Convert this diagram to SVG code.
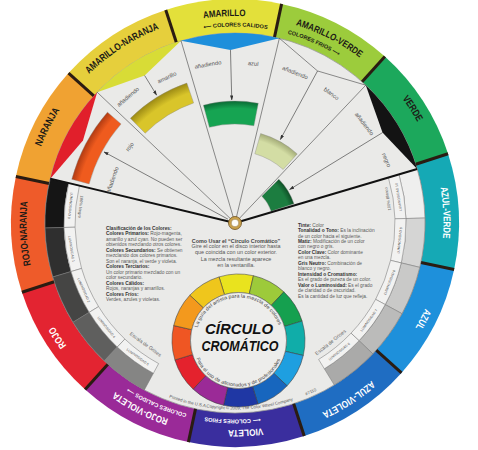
<svg xmlns="http://www.w3.org/2000/svg" width="478" height="450" viewBox="0 0 478 450">
<style>
text{font-family:"Liberation Sans",Arial,"DejaVu Sans",sans-serif}
.rl{font-weight:bold;font-size:10px}
.rl2{font-weight:bold;font-size:9.5px}
.sub{font-weight:bold;font-size:5.6px}
.dk{fill:#1c1a16}
.wt{fill:#fff}
.sm{font-size:5.8px;fill:#555}
.tb{font-size:4.8px;fill:#5a5a5a}
.b{font-weight:bold;fill:#333}
.lum{font-size:3.4px;fill:#555}
.thin{stroke:#444;stroke-width:0.6;fill:none}
.thick{stroke:#111;stroke-width:2;fill:none}
.arr{stroke:#333;stroke-width:0.6;fill:none;marker-end:url(#ah)}
.bd{stroke:#2a1c12;stroke-width:3}
.box{stroke:#7a7a7a;stroke-width:0.5}
.sws{stroke:#3a3a3a;stroke-width:0.5}
</style>
<defs>
<marker id="ah" viewBox="0 0 6 4" refX="5.5" refY="2" markerWidth="5" markerHeight="3.4" markerUnits="userSpaceOnUse" orient="auto"><path d="M0,0 L6,2 L0,4 Z" fill="#333"/></marker>
<path id="seg" d="M235,223 L177.02,6.63 A224,224 0 0 1 292.98,6.63 Z"/>
<path id="tab" d="M185.83,39.47 A190,190 0 0 1 284.17,39.47 L235,50 Z"/>
<path id="gb" d="M210.20,34.63 A190,190 0 0 1 259.80,34.63 L257.32,53.46 A171,171 0 0 0 212.68,53.46 Z"/>
<path id="lb" d="M212.68,53.46 A171,171 0 0 1 257.32,53.46 L255.88,64.37 A160,160 0 0 0 214.12,64.37 Z"/>
<path id="sw" d="M221.29,276.27 A66.5,66.5 0 0 1 255.71,276.27 L250.92,294.14 A48,48 0 0 0 226.08,294.14 Z"/>
<path id="c1" d="M235,14.5 A208.5,208.5 0 1 1 235,431.5 A208.5,208.5 0 1 1 235,14.5 A208.5,208.5 0 1 1 235,431.5 A208.5,208.5 0 1 1 235,14.5"/>
<path id="c2" d="M235,16 A207,207 0 1 1 235,430 A207,207 0 1 1 235,16 A207,207 0 1 1 235,430 A207,207 0 1 1 235,16"/>
<path id="c3" d="M235,26.5 A196.5,196.5 0 1 1 235,419.5 A196.5,196.5 0 1 1 235,26.5 A196.5,196.5 0 1 1 235,419.5 A196.5,196.5 0 1 1 235,26.5"/>
<path id="cw1" d="M196.15,347.97 A43,43 0 1 1 280.85,347.97"/>
<path id="cw2" d="M193.20,348.49 A46,46 0 0 0 283.80,348.49"/>
<path id="cp" d="M128.03,375.77 A186.5,186.5 0 0 0 354.88,365.87"/>
<radialGradient id="gO" gradientUnits="userSpaceOnUse" cx="235" cy="223" r="169"><stop offset="0.95" stop-color="#ef5b1e"/><stop offset="1" stop-color="#b03a12"/></radialGradient>
<radialGradient id="gY" gradientUnits="userSpaceOnUse" cx="235" cy="223" r="148"><stop offset="0.93" stop-color="#d9c52a"/><stop offset="1" stop-color="#9c8a14"/></radialGradient>
<radialGradient id="gG" gradientUnits="userSpaceOnUse" cx="235" cy="223" r="122"><stop offset="0.94" stop-color="#16a452"/><stop offset="1" stop-color="#0a6a34"/></radialGradient>
<radialGradient id="gL" gradientUnits="userSpaceOnUse" cx="235" cy="223" r="93"><stop offset="0.92" stop-color="#d3dda4"/><stop offset="1" stop-color="#a4ac78"/></radialGradient>
<radialGradient id="gD" gradientUnits="userSpaceOnUse" cx="235" cy="223" r="62"><stop offset="0.9" stop-color="#1c7d40"/><stop offset="1" stop-color="#0e4f26"/></radialGradient>
</defs>
<rect width="478" height="450" fill="#fff"/>

<g id="outer-ring">
<g id="seg-amarillo"><use href="#seg" transform="rotate(-3 235 223)" fill="#e3e03a"/></g>
<g id="seg-amarillo-verde"><use href="#seg" transform="rotate(27 235 223)" fill="#9ccc3c"/></g>
<g id="seg-verde"><use href="#seg" transform="rotate(57 235 223)" fill="#1ca85c"/></g>
<g id="seg-azul-verde"><use href="#seg" transform="rotate(87 235 223)" fill="#15a9b5"/></g>
<g id="seg-azul"><use href="#seg" transform="rotate(117 235 223)" fill="#1e90db"/></g>
<g id="seg-azul-violeta"><use href="#seg" transform="rotate(147 235 223)" fill="#1f6dc2"/></g>
<g id="seg-violeta"><use href="#seg" transform="rotate(177 235 223)" fill="#3a2e9e"/></g>
<g id="seg-rojo-violeta"><use href="#seg" transform="rotate(207 235 223)" fill="#9a2a98"/></g>
<g id="seg-rojo"><use href="#seg" transform="rotate(237 235 223)" fill="#e32431"/></g>
<g id="seg-rojo-naranja"><use href="#seg" transform="rotate(267 235 223)" fill="#ee5b2a"/></g>
<g id="seg-naranja"><use href="#seg" transform="rotate(297 235 223)" fill="#f0a232"/></g>
<g id="seg-amarillo-naranja"><use href="#seg" transform="rotate(327 235 223)" fill="#e6cf3c"/></g>
</g>

<g id="inner-disc">
<circle cx="235" cy="223" r="190" fill="#eaeae8" stroke="#9a9a98" stroke-width="0.8"/>
</g>

<g id="ring-boundaries" class="bd">
<line x1="235" y1="-1" x2="235" y2="33" transform="rotate(-18 235 223)"/>
<line x1="235" y1="-1" x2="235" y2="33" transform="rotate(12 235 223)"/>
<line x1="235" y1="-1" x2="235" y2="33" transform="rotate(42 235 223)"/>
<line x1="235" y1="-1" x2="235" y2="33" transform="rotate(72 235 223)"/>
<line x1="235" y1="-1" x2="235" y2="33" transform="rotate(102 235 223)"/>
<line x1="235" y1="-1" x2="235" y2="33" transform="rotate(132 235 223)"/>
<line x1="235" y1="-1" x2="235" y2="33" transform="rotate(162 235 223)"/>
<line x1="235" y1="-1" x2="235" y2="33" transform="rotate(192 235 223)"/>
<line x1="235" y1="-1" x2="235" y2="33" transform="rotate(222 235 223)"/>
<line x1="235" y1="-1" x2="235" y2="33" transform="rotate(252 235 223)"/>
<line x1="235" y1="-1" x2="235" y2="33" transform="rotate(282 235 223)"/>
<line x1="235" y1="-1" x2="235" y2="33" transform="rotate(312 235 223)"/>
</g>

<g id="ring-labels" text-anchor="middle">
<text class="rl2 dk"><textPath href="#c2" startOffset="1289.78" textLength="42" lengthAdjust="spacingAndGlyphs">AMARILLO</textPath></text>
<text class="sub dk"><textPath href="#c3" startOffset="1234.65">⟵ COLORES CALIDOS</textPath></text>
<text class="rl2 dk"><textPath href="#c2" startOffset="1398.17" textLength="72" lengthAdjust="spacingAndGlyphs">AMARILLO-VERDE</textPath></text>
<text class="sub dk"><textPath href="#c3" startOffset="1315.25">COLORES FRIOS ⟶</textPath></text>
<text class="rl dk"><textPath href="#c1" startOffset="1517.46" textLength="28" lengthAdjust="spacingAndGlyphs">VERDE</textPath></text>
<text class="rl wt"><textPath href="#c1" startOffset="1626.63" textLength="51" lengthAdjust="spacingAndGlyphs">AZUL-VERDE</textPath></text>
<text class="rl wt"><textPath href="#c1" startOffset="1735.80" textLength="21.5" lengthAdjust="spacingAndGlyphs">AZUL</textPath></text>
<text class="rl wt"><textPath href="#c1" startOffset="1844.97" textLength="59" lengthAdjust="spacingAndGlyphs">AZUL-VIOLETA</textPath></text>
<text class="rl2 wt"><textPath href="#c2" startOffset="1940.09" textLength="35" lengthAdjust="spacingAndGlyphs">VIOLETA</textPath></text>
<text class="sub wt"><textPath href="#c3" startOffset="1853.69">⟵ COLORES FRIOS</textPath></text>
<text class="rl2 wt"><textPath href="#c2" startOffset="747.86" textLength="60" lengthAdjust="spacingAndGlyphs">ROJO-VIOLETA</textPath></text>
<text class="sub wt"><textPath href="#c3" startOffset="697.92">COLORES CALIDOS ⟶</textPath></text>
<text class="rl wt"><textPath href="#c1" startOffset="862.44" textLength="23" lengthAdjust="spacingAndGlyphs">ROJO</textPath></text>
<text class="rl dk"><textPath href="#c1" startOffset="971.61" textLength="64" lengthAdjust="spacingAndGlyphs">ROJO-NARANJA</textPath></text>
<text class="rl dk"><textPath href="#c1" startOffset="1080.78" textLength="41" lengthAdjust="spacingAndGlyphs">NARANJA</textPath></text>
<text class="rl dk"><textPath href="#c1" startOffset="1189.95" textLength="84" lengthAdjust="spacingAndGlyphs">AMARILLO-NARANJA</textPath></text>
</g>

<g id="tabs">
<g id="tab-rojo"><use href="#tab" transform="rotate(-61.5 235 223)" fill="#e11f2b"/></g>
<g id="tab-amarillo"><use href="#tab" transform="rotate(-31.5 235 223)" fill="#d8dc36"/></g>
<g id="tab-azul"><use href="#tab" transform="rotate(-1.5 235 223)" fill="#1e8fdb"/></g>
<g id="tab-blanco"><polyline class="thin" points="279.36,38.25 317.55,70.96 365.79,85.18"/></g>
<g id="tab-negro"><use href="#tab" transform="rotate(58.5 235 223)" fill="#131313"/></g>
</g>

<g id="windows" stroke="#8a8a88" stroke-width="0.4">
<path id="win-rojo-naranja" d="M71.76,179.26 A169,169 0 0 1 107.45,112.13 L121.04,123.93 A151,151 0 0 0 89.14,183.92 Z" fill="url(#gO)"/>
<path id="win-amarillo-naranja" d="M130.35,118.35 A148,148 0 0 1 186.82,83.06 L193.65,102.92 A127,127 0 0 0 145.20,133.20 Z" fill="url(#gY)"/>
<path id="win-verde" d="M203.42,105.16 A122,122 0 0 1 258.28,103.24 L253.89,125.82 A99,99 0 0 0 209.38,127.37 Z" fill="url(#gG)"/>
<path id="win-verde-claro" d="M260.63,133.60 A93,93 0 0 1 297.23,153.89 L283.18,169.49 A72,72 0 0 0 254.85,153.79 Z" fill="url(#gL)"/>
<path id="win-verde-oscuro" d="M278.84,179.16 A62,62 0 0 1 293.97,203.84 L271.14,211.26 A38,38 0 0 0 261.87,196.13 Z" fill="url(#gD)"/>
</g>

<g id="grayscale">
<g id="gris-izq">
<use href="#gb" transform="rotate(276 235 223)" fill="#151515" class="box"/>
<use href="#gb" transform="rotate(261 235 223)" fill="#2f2f2f" class="box"/>
<use href="#gb" transform="rotate(246 235 223)" fill="#454544" class="box"/>
<use href="#gb" transform="rotate(231 235 223)" fill="#5f5f5e" class="box"/>
<use href="#gb" transform="rotate(216 235 223)" fill="#858584" class="box"/>
<use href="#lb" transform="rotate(276 235 223)" fill="#f2f2f1" class="box"/>
<use href="#lb" transform="rotate(261 235 223)" fill="#f2f2f1" class="box"/>
<use href="#lb" transform="rotate(246 235 223)" fill="#f2f2f1" class="box"/>
<use href="#lb" transform="rotate(231 235 223)" fill="#f2f2f1" class="box"/>
<use href="#lb" transform="rotate(216 235 223)" fill="#f2f2f1" class="box"/>
<g class="lum" text-anchor="middle">
<text x="235" y="389.7" transform="rotate(96 235 223)">LUMINOSIDAD 0</text>
<text x="235" y="389.7" transform="rotate(81 235 223)">LUMINOSIDAD 1</text>
<text x="235" y="389.7" transform="rotate(66 235 223)">LUMINOSIDAD 2</text>
<text x="235" y="389.7" transform="rotate(51 235 223)">LUMINOSIDAD 4</text>
<text x="235" y="389.7" transform="rotate(36 235 223)">LUMINOSIDAD 5</text>
</g>
<text x="235" y="379.5" transform="rotate(96 235 223)" text-anchor="middle" font-size="4" fill="#555">100% Negro</text>
<text x="235" y="375.4" transform="rotate(36.4 235 223)" text-anchor="middle" font-size="5" fill="#666">Escala de Grises</text>
</g>
<g id="gris-der">
<use href="#gb" transform="rotate(81 235 223)" fill="#efefee" class="box"/>
<use href="#gb" transform="rotate(96 235 223)" fill="#d5d5d4" class="box"/>
<use href="#gb" transform="rotate(111 235 223)" fill="#c9c9c8" class="box"/>
<use href="#gb" transform="rotate(126 235 223)" fill="#bbbbba" class="box"/>
<use href="#gb" transform="rotate(141 235 223)" fill="#aaaaa9" class="box"/>
<use href="#lb" transform="rotate(81 235 223)" fill="#f2f2f1" class="box"/>
<use href="#lb" transform="rotate(96 235 223)" fill="#f2f2f1" class="box"/>
<use href="#lb" transform="rotate(111 235 223)" fill="#f2f2f1" class="box"/>
<use href="#lb" transform="rotate(126 235 223)" fill="#f2f2f1" class="box"/>
<use href="#lb" transform="rotate(141 235 223)" fill="#f2f2f1" class="box"/>
<g class="lum" text-anchor="middle">
<text x="235" y="389.7" transform="rotate(-99 235 223)">LUMINOSIDAD 10</text>
<text x="235" y="389.7" transform="rotate(-84 235 223)">LUMINOSIDAD 9</text>
<text x="235" y="389.7" transform="rotate(-69 235 223)">LUMINOSIDAD 8</text>
<text x="235" y="389.7" transform="rotate(-54 235 223)">LUMINOSIDAD 7</text>
<text x="235" y="389.7" transform="rotate(-39 235 223)">LUMINOSIDAD 6</text>
</g>
<text x="235" y="379" transform="rotate(-99 235 223)" text-anchor="middle" font-size="4" fill="#555">100% Blanco</text>
<text x="235" y="377.5" transform="rotate(-38.7 235 223)" text-anchor="middle" font-size="5" fill="#666">Escala de Grises</text>
</g>
</g>

<g id="connectors">
<line class="thick" x1="235" y1="223" x2="50.25" y2="178.64"/>
<line class="thick" x1="235" y1="223" x2="417.18" y2="169.04"/>
<line class="thin" x1="235" y1="223" x2="97.18" y2="92.21"/>
<line class="thin" x1="235" y1="223" x2="181.04" y2="40.82"/>
<line class="thin" x1="235" y1="223" x2="279.36" y2="38.25"/>
<line class="thin" x1="235" y1="223" x2="365.79" y2="85.18"/>
<path class="arr" d="M227.97,219.18 L104.0,151.9"/>
<path class="arr" d="M144.61,75.49 L156.63,95.10"/>
<path class="arr" d="M230.47,50.06 L231.78,100.04"/>
<path class="arr" d="M317.55,70.96 L280.33,139.51"/>
<path class="arr" d="M382.51,132.61 L289.57,189.56"/>
</g>

<g id="mix-labels" class="sm" text-anchor="middle">
<text x="235" y="95" transform="rotate(-70.6 235 223)">añadiendo</text>
<text x="235" y="95" transform="rotate(-54.1 235 223)">rojo</text>
<text x="235" y="59.5" transform="rotate(-40.3 235 223)">añadiendo</text>
<text x="235" y="64.3" transform="rotate(-25.1 235 223)">amarillo</text>
<text x="235" y="64.2" transform="rotate(-9.7 235 223)">añadiendo</text>
<text x="235" y="64.5" transform="rotate(6.5 235 223)">azul</text>
<text x="235" y="63" transform="rotate(21.8 235 223)">añadiendo</text>
<text x="235" y="63.7" transform="rotate(36.7 235 223)">blanco</text>
<text x="235" y="62" transform="rotate(52.5 235 223)">añadiendo</text>
<text x="235" y="61" transform="rotate(67.4 235 223)">negro</text>
</g>

<g id="pivot">
<circle cx="235" cy="223" r="6.5" fill="#caa24c" stroke="#6e5020" stroke-width="0.8"/>
<circle cx="235" cy="223" r="3.8" fill="#fdfdf8" stroke="#8a6a30" stroke-width="0.5"/>
</g>

<g id="text-clasificacion" class="tb">
<text x="106" y="229.9"><tspan class="b">Clasificación de los Colores:</tspan></text>
<text x="106" y="235.4"><tspan class="b">Colores Primarios:</tspan> Rojo-magenta,</text>
<text x="106" y="240.9">amarillo y azul cyan. No pueden ser</text>
<text x="106" y="246.4">obtenidos mezclando otros colores.</text>
<text x="106" y="251.9"><tspan class="b">Colores Secundarios:</tspan> Se obtienen</text>
<text x="106" y="257.4">mezclando dos colores primarios.</text>
<text x="106" y="262.9">Son el naranja, el verde y violeta.</text>
<text x="106" y="268.4"><tspan class="b">Colores Terciarios:</tspan></text>
<text x="106" y="273.9">Un color primario mezclado con un</text>
<text x="106" y="279.4">color secundario.</text>
<text x="106" y="284.9"><tspan class="b">Colores Cálidos:</tspan></text>
<text x="106" y="290.4">Rojos, naranjas y amarillos.</text>
<text x="106" y="295.9"><tspan class="b">Colores Fríos:</tspan></text>
<text x="106" y="301.4">Verdes, azules y violetas.</text>
</g>

<g id="text-como-usar" text-anchor="middle" font-size="5.4" fill="#555">
<text x="236" y="242.7" font-weight="bold" fill="#444">Como Usar el “Círculo Cromático”</text>
<text x="236" y="248.4">Gire el color en el disco interior hasta</text>
<text x="236" y="254.1">que coincida con un color exterior.</text>
<text x="236" y="261.1">La mezcla resultante aparece</text>
<text x="236" y="267.4">en la ventanilla.</text>
</g>

<g id="text-definiciones" class="tb">
<text x="298" y="226.6"><tspan class="b">Tinte:</tspan> Color</text>
<text x="298" y="232.1"><tspan class="b">Tonalidad o Tono:</tspan> Es la inclinación</text>
<text x="298" y="237.5">de un color hacia el siguiente.</text>
<text x="298" y="243.0"><tspan class="b">Matiz:</tspan> Modificación de un color</text>
<text x="298" y="248.4">con negro o gris.</text>
<text x="298" y="253.9"><tspan class="b">Color Clave:</tspan> Color dominante</text>
<text x="298" y="259.4">en una mezcla.</text>
<text x="298" y="264.8"><tspan class="b">Gris Neutro:</tspan> Combinación de</text>
<text x="298" y="270.3">blanco y negro.</text>
<text x="298" y="275.7"><tspan class="b">Intensidad o Cromatismo:</tspan></text>
<text x="298" y="281.2">Es el grado de pureza de un color.</text>
<text x="298" y="286.7"><tspan class="b">Valor o Luminosidad:</tspan> Es el grado</text>
<text x="298" y="292.1">de claridad o de oscuridad.</text>
<text x="298" y="297.6">Es la cantidad de luz que refleja.</text>
</g>

<g id="small-wheel">
<use href="#sw" class="sws" transform="rotate(-2 238.5 340.5)" fill="#e9e31e"/>
<use href="#sw" class="sws" transform="rotate(28 238.5 340.5)" fill="#9dca3a"/>
<use href="#sw" class="sws" transform="rotate(58 238.5 340.5)" fill="#15a04f"/>
<use href="#sw" class="sws" transform="rotate(88 238.5 340.5)" fill="#10ada9"/>
<use href="#sw" class="sws" transform="rotate(118 238.5 340.5)" fill="#1e9fe0"/>
<use href="#sw" class="sws" transform="rotate(148 238.5 340.5)" fill="#1766be"/>
<use href="#sw" class="sws" transform="rotate(178 238.5 340.5)" fill="#1f37a4"/>
<use href="#sw" class="sws" transform="rotate(208 238.5 340.5)" fill="#9b2a97"/>
<use href="#sw" class="sws" transform="rotate(238 238.5 340.5)" fill="#e4222d"/>
<use href="#sw" class="sws" transform="rotate(268 238.5 340.5)" fill="#ef5623"/>
<use href="#sw" class="sws" transform="rotate(298 238.5 340.5)" fill="#f3991d"/>
<use href="#sw" class="sws" transform="rotate(328 238.5 340.5)" fill="#efc61c"/>
<circle cx="238.5" cy="340.5" r="48" fill="#ededeb" stroke="#555" stroke-width="0.5"/>
<text font-size="5" fill="#444" text-anchor="middle"><textPath href="#cw1" startOffset="73.55" textLength="106" lengthAdjust="spacingAndGlyphs">La guía del artista para la mezcla de colores</textPath></text>
<text font-size="5" fill="#444" text-anchor="middle"><textPath href="#cw2" startOffset="63.55" textLength="106" lengthAdjust="spacingAndGlyphs">Para el uso de aficionados y de profesionales</textPath></text>
<text x="239" y="334" text-anchor="middle" font-size="14" font-weight="bold" font-style="italic" fill="#111" textLength="68" lengthAdjust="spacingAndGlyphs">CÍRCULO</text>
<text x="240" y="351" text-anchor="middle" font-size="14" font-weight="bold" font-style="italic" fill="#111" textLength="77" lengthAdjust="spacingAndGlyphs">CROMÁTICO</text>
</g>

<g id="copyright" font-size="4.3" fill="#555" text-anchor="middle">
<text><textPath href="#cp" startOffset="66">Printed in the U.S.A.</textPath></text>
<text><textPath href="#cp" startOffset="129">Copyright © 2009, The Color Wheel Company</textPath></text>
<text><textPath href="#cp" startOffset="192.4">#7110</textPath></text>
</g>
</svg>
